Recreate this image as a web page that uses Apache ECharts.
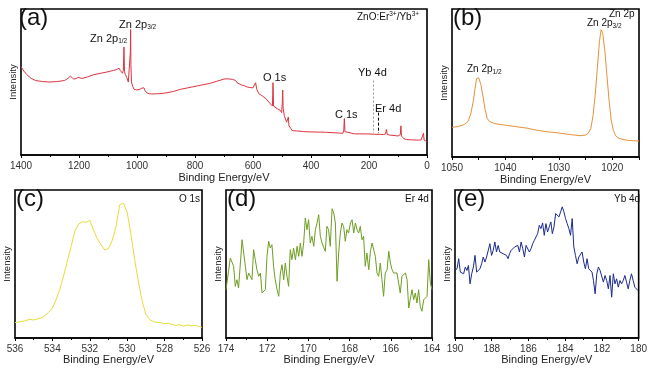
<!DOCTYPE html>
<html><head><meta charset="utf-8">
<script src="https://cdn.jsdelivr.net/npm/echarts@6/dist/echarts.min.js"></script>
<style>html,body{margin:0;padding:0;background:#fff}#c{width:650px;height:369px}</style>
</head><body><div id="c"></div>
<script>
// (a) survey spectrum
const surveyE = [1400,1390,1380,1365,1350,1325,1300,1275,1250,1238,1230,1224,1218,1210,1203,1198,1190,1170,1150,1125,1100,1080,1070,1062,1058,1055,1050,1047,1045,1043,1040,1035,1030,1026,1023,1022,1021,1019,1015,1010,1000,990,983,980,976,972,966,958,950,925,900,875,850,825,800,775,750,725,700,690,680,670,660,655,650,640,630,620,610,600,595,591,587,580,572,565,555,549,540,533,531,529,525,515,507,501,499,497.5,496,492,488,484,480,478,476,470,465,450,425,400,350,300,290,287,285,283,280,250,200,180,160,150,143,140,137,130,110,100,95,92,90,88,85,80,70,50,30,20,15,12,10,5,0];
const surveyI = [60.5,57.5,55,52.5,51,50.3,50,50.3,51,52.5,54,53,52,52.3,53.2,52.4,52.4,53.5,55,56,57,58,58.5,59.5,58,57.5,56,58,74,57,55,53,50,51,70,86,62,50,47,45,44.5,45,45.8,46.5,46,44,42.5,42,41.8,42,42.5,43.5,45,46,47,48,49,50.5,52,52.2,52,51.8,51,49.5,49,48,47.5,46.6,46.2,46,45.5,49.5,45,42,41,40,38.5,37.7,35,33.5,49.5,33.5,33,31.5,30.8,29,36,44.5,32,27,26.3,22.5,22,26,20,18.3,16.7,16.5,16,15.8,15.6,15,14.9,17,25,16,14.9,14.5,14.4,14.2,14.1,14,14.5,17.5,14,13.7,13.3,13,12.6,14,20,13,12.4,11.2,10.6,10.3,10.2,10.3,11,15,10.2,9.6,9];
const markerE = [185, 169];
const markerTop = [51, 29];
const markerBottom = [15, 15];

// (b) Zn 2p
const znE = [1050,1049,1048,1047.5,1047,1046.5,1046,1045.7,1045.4,1045,1044.6,1044.2,1043.8,1043.4,1043,1042,1041,1040,1038,1036,1034,1032,1030,1028,1026,1025,1024.5,1024,1023.6,1023.2,1022.8,1022.4,1022.1,1021.8,1021.4,1021,1020.6,1020.2,1019.8,1019.4,1019,1018,1017,1016,1015];
const znI = [20,20.5,21.5,22.5,24,29,38,46,53,53.5,49,41,32,26,24,22.5,22,21.5,20.5,19.5,18,17,16.2,15.2,14.4,14.8,16,19.5,28,42,60,78,86,84,72,55,38,25,18,14.5,13,11.8,11.2,11,10.8];

// (c) O 1s
const oE = [536,535.8,535.5,535.2,535,534.8,534.6,534.4,534.2,534,533.8,533.6,533.4,533.2,533,532.8,532.6,532.4,532.2,532,531.8,531.6,531.4,531.2,531,530.8,530.6,530.4,530.2,530,529.8,529.6,529.4,529.2,529,528.8,528.6,528.4,528.2,528,527.8,527.6,527.4,527.2,527,526.8,526.6,526.4,526.2,526];
const oI = [10.4,10.8,11.5,12.6,12.2,12.9,13.5,15,17.5,20,26,33,42,52,62,72,77,78.5,78.2,79.5,73,67,63,59.5,60.5,66,75,90,91,85,70,53,38,25,16,12.5,11.2,10.5,10.3,9.5,10,9.2,8.5,9,8,8.8,8.2,8.6,8,7.2];

// (d) Er 4d
const erE = [174.00,173.79,173.71,173.63,173.55,173.47,173.39,173.30,173.22,173.14,173.06,172.98,172.90,172.82,172.74,172.66,172.58,172.50,172.41,172.33,172.25,172.17,172.09,172.01,171.93,171.85,171.77,171.69,171.61,171.52,171.44,171.36,171.28,171.20,171.12,171.04,170.96,170.88,170.80,170.72,170.63,170.55,170.47,170.39,170.31,170.23,170.15,170.07,169.99,169.91,169.83,169.74,169.66,169.58,169.50,169.42,169.34,169.26,169.18,169.10,169.02,168.94,168.85,168.77,168.69,168.61,168.53,168.45,168.37,168.29,168.21,168.13,168.05,167.96,167.88,167.80,167.72,167.64,167.56,167.48,167.40,167.32,167.24,167.16,167.07,166.99,166.91,166.83,166.75,166.67,166.59,166.51,166.43,166.35,166.27,166.18,166.10,166.02,165.94,165.86,165.78,165.70,165.62,165.54,165.46,165.38,165.29,165.21,165.13,165.05,164.97,164.89,164.81,164.73,164.65,164.57,164.49,164.40,164.32,164.24,164.16,164.08,164.00];
const erI = [483,800,817,717,517,583,500,517,983,990,717,583,650,633,583,883,783,683,617,650,450,467,483,817,967,900,933,717,583,483,417,650,733,583,750,617,517,883,783,900,783,917,817,950,817,950,1200,1083,1183,950,1017,917,1083,1150,1233,1017,950,950,867,1117,1083,917,1293,1250,1150,567,850,1050,1150,1117,967,1083,1050,1150,1183,1050,1150,1083,1050,1117,983,1017,717,850,683,867,950,933,817,650,617,750,583,417,650,683,867,750,683,650,667,650,667,450,617,633,650,583,300,300,483,383,450,350,483,317,267,383,367,417,783,550,483];

// (e) Yb 4d
const ybE = [190.00,189.89,189.80,189.71,189.62,189.53,189.44,189.35,189.27,189.18,189.09,189.00,188.91,188.82,188.73,188.64,188.55,188.46,188.37,188.28,188.19,188.10,188.01,187.92,187.83,187.74,187.65,187.56,187.47,187.38,187.29,187.20,187.11,187.03,186.94,186.85,186.76,186.67,186.58,186.49,186.40,186.31,186.22,186.13,186.04,185.95,185.86,185.77,185.68,185.59,185.50,185.41,185.32,185.23,185.14,185.05,184.96,184.87,184.78,184.70,184.61,184.52,184.43,184.34,184.25,184.16,184.07,183.98,183.89,183.80,183.71,183.62,183.53,183.44,183.35,183.26,183.17,183.08,182.99,182.90,182.81,182.72,182.63,182.54,182.46,182.37,182.28,182.19,182.10,182.01,181.92,181.83,181.74,181.65,181.56,181.47,181.38,181.29,181.20,181.11,181.02,180.93,180.84,180.75,180.66,180.57,180.48,180.39,180.30,180.21,180.13,180.04];
const ybI = [673,690,790,657,673,640,707,673,723,540,640,707,823,657,640,690,740,807,757,807,790,940,823,873,957,857,923,857,873,840,857,823,790,840,873,857,907,890,923,857,957,890,807,923,907,857,890,940,973,1007,1040,1123,1090,1147,1023,1140,1057,1107,1157,1040,1107,1240,1257,1207,1257,1307,1257,1190,1140,1090,1023,1190,907,823,740,807,790,857,757,690,790,690,673,657,573,440,640,707,673,657,557,623,573,490,623,407,640,540,590,507,573,540,573,623,557,490,573,640,573,507,523,473];

const F = "'Liberation Sans', Arial, Helvetica, sans-serif";
const zip = (a, b) => a.map((v, i) => [v, b[i]]);

const grids = [
  {left:18, top:9, width:409, height:146},
  {left:452, top:9, width:187, height:148},
  {left:15, top:190, width:187, height:148},
  {left:226, top:190, width:206, height:148},
  {left:455, top:190, width:186, height:148}
].map(g => Object.assign({show:true, borderColor:'#000', borderWidth:1.6, backgroundColor:'transparent'}, g));

function xAx(i, min, max, interval, nameGap, fmt) {
  return {
    gridIndex:i, type:'value', inverse:true, min:min, max:max, interval:interval,
    axisLine:{show:true, onZero:false, lineStyle:{color:'#000', width:1.6}},
    axisTick:{show:true, length:3, lineStyle:{color:'#000', width:1}},
    minorTick:{show: !fmt, splitNumber:2, length:2, lineStyle:{color:'#000', width:1}},
    splitLine:{show:false},
    axisLabel:{fontSize:10, color:'#333', margin:6, fontFamily:F, formatter: fmt || (v => String(v))},
    name:'Binding Energy/eV', nameLocation:'middle', nameGap:nameGap,
    nameTextStyle:{fontSize:11, color:'#222', fontFamily:F}
  };
}
function yAx(i, max) {
  return {
    gridIndex:i, type:'value', min:0, max:max,
    axisLine:{show:false}, axisTick:{show:false}, axisLabel:{show:false}, splitLine:{show:false},
    name:'Intensity', nameLocation:'middle', nameGap:3, nameRotate:90,
    nameTextStyle:{fontSize:9.5, color:'#222', fontFamily:F}
  };
}

function ser(i, E, I, color, extra) {
  return Object.assign({
    type:'line', xAxisIndex:i, yAxisIndex:i, data: zip(E, I), showSymbol:false, symbol:'none',
    lineStyle:{color:color, width:1}, itemStyle:{color:color}, silent:true, animation:false
  }, extra || {});
}

const sub = {fontSize:6.5, fontFamily:F, fill:'#111', color:'#111', verticalAlign:'bottom', lineHeight:10};
const sup = {fontSize:6.5, fontFamily:F, fill:'#111', color:'#111', verticalAlign:'top', lineHeight:10};
function txt(left, top, text, size, rich) {
  return {type:'text', left:left, top:top, silent:true,
    style:{text:text, fontSize:size, fontFamily:F, fill:'#111', rich: rich}};
}
const richN = (s) => ({n:{fontSize:s, fontFamily:F, fill:'#111', color:'#111', lineHeight:13}, s:sub, p:sup});

const option = {
  animation:false,
  backgroundColor:'#fff',
  grid: grids,
  xAxis: [
    xAx(0, 0, 1400, 200, 17),
    xAx(1, 1015, 1050, 5, 17, v => (v % 10 === 0 ? String(v) : '')),
    xAx(2, 526, 536, 2, 14),
    xAx(3, 164, 174, 2, 14),
    xAx(4, 180, 190, 2, 14)
  ],
  yAxis: [yAx(0, 100), yAx(1, 100), yAx(2, 100), yAx(3, 1480), yAx(4, 1475)],
  series: [
    ser(0, surveyE, surveyI, '#dc3540', {
      markLine:{symbol:'none', silent:true, label:{show:false}, animation:false,
        data:[
          [{coord:[markerE[0], markerTop[0]], lineStyle:{color:'#999', type:[2,2], width:1}}, {coord:[markerE[0], markerBottom[0]]}],
          [{coord:[markerE[1], markerTop[1]], lineStyle:{color:'#000', type:[3,2], width:1}}, {coord:[markerE[1], markerBottom[1]]}]
        ]}
    }),
    ser(1, znE, znI, '#e8903a'),
    ser(2, oE, oI, '#e6dc3a'),
    ser(3, erE, erI, '#6e9e22'),
    ser(4, ybE, ybI, '#1c2a8e')
  ],
  graphic: [
    txt(19, 6, '(a)', 24),
    txt(453, 6, '(b)', 24),
    txt(16, 187, '(c)', 24),
    txt(227, 187, '(d)', 24),
    txt(456, 187, '(e)', 24),
    txt(357, 11, '{n|ZnO:Er}{p|3+}{n|/Yb}{p|3+}', 10, richN(10)),
    txt(119, 19, '{n|Zn 2p}{s|3/2}', 11, richN(11)),
    txt(90, 33, '{n|Zn 2p}{s|1/2}', 11, richN(11)),
    txt(263, 72, 'O 1s', 11),
    txt(358, 67, 'Yb 4d', 11),
    txt(375, 103, 'Er 4d', 11),
    txt(335, 109, 'C 1s', 11),
    txt(609, 9, 'Zn 2p', 10),
    txt(587, 18, '{n|Zn 2p}{s|3/2}', 10, richN(10)),
    txt(467, 64, '{n|Zn 2p}{s|1/2}', 10, richN(10)),
    txt(179, 194, 'O 1s', 10),
    txt(405, 194, 'Er 4d', 10),
    txt(614, 194, 'Yb 4d', 10)
  ]
};
const chart = echarts.init(document.getElementById('c'), null, {renderer:'canvas'});
chart.setOption(option);
</script></body></html>
